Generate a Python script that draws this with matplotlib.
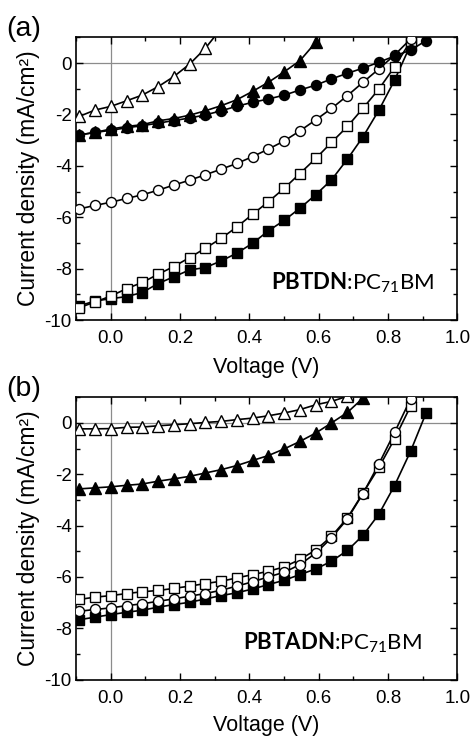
import matplotlib
matplotlib.use("Agg")
import matplotlib.pyplot as plt
from matplotlib.ticker import MultipleLocator

plt.rcParams['font.family'] = ['Liberation Sans', 'DejaVu Sans']
plt.rcParams['mathtext.fontset'] = 'custom'
plt.rcParams['mathtext.rm'] = 'Lato'
plt.rcParams['mathtext.bf'] = 'Lato:bold'

# Voltage grid of the measurements (V)
voltage = [-0.091, -0.045, 0.000, 0.046, 0.091, 0.137, 0.182, 0.228, 0.273,
           0.319, 0.364, 0.410, 0.455, 0.501, 0.546, 0.592, 0.637, 0.683,
           0.728, 0.774, 0.819, 0.865, 0.910]

# Panel (a): PBTDN:PC71BM
a_filled_square = [-9.45, -9.26, -9.17, -9.09, -8.93, -8.58, -8.32, -8.05, -7.96, -7.70,
                   -7.40, -7.01, -6.53, -6.12, -5.65, -5.12, -4.55, -3.74, -2.87, -1.83,
                   -0.67, 0.70]
a_open_square = [-9.52, -9.30, -9.07, -8.78, -8.54, -8.22, -7.92, -7.57, -7.21, -6.82,
                 -6.38, -5.88, -5.40, -4.87, -4.30, -3.71, -3.09, -2.47, -1.76, -1.01,
                 -0.15, 0.85]
a_open_circle = [-5.68, -5.54, -5.42, -5.27, -5.13, -4.95, -4.75, -4.56, -4.35, -4.13,
                 -3.91, -3.64, -3.35, -3.03, -2.64, -2.21, -1.77, -1.27, -0.75, -0.23,
                 0.31, 0.93]
a_filled_circle = [-2.80, -2.70, -2.62, -2.52, -2.44, -2.34, -2.24, -2.14, -2.02, -1.86,
                   -1.68, -1.53, -1.40, -1.25, -1.05, -0.86, -0.62, -0.40, -0.20, 0.03,
                   0.27, 0.50, 0.87]
a_filled_triangle = [-2.80, -2.70, -2.57, -2.47, -2.40, -2.25, -2.16, -2.03, -1.86, -1.66,
                     -1.43, -1.10, -0.75, -0.34, 0.09, 0.81]
a_open_triangle = [-2.08, -1.83, -1.69, -1.47, -1.25, -0.92, -0.53, -0.04, 0.57, 1.35]

# Panel (b): PBTADN:PC71BM
b_filled_square = [-7.67, -7.57, -7.47, -7.38, -7.30, -7.18, -7.08, -6.99, -6.86, -6.73,
                   -6.62, -6.47, -6.30, -6.13, -5.91, -5.69, -5.39, -4.97, -4.38, -3.55,
                   -2.44, -1.11, 0.39]
b_open_square = [-6.88, -6.79, -6.73, -6.65, -6.58, -6.53, -6.45, -6.36, -6.26, -6.17,
                 -6.04, -5.91, -5.78, -5.61, -5.32, -4.95, -4.42, -3.70, -2.73, -1.73,
                 -0.62, 0.65]
b_open_circle = [-7.34, -7.27, -7.21, -7.12, -7.05, -6.95, -6.86, -6.75, -6.65, -6.52,
                 -6.36, -6.19, -6.00, -5.82, -5.52, -5.07, -4.48, -3.74, -2.75, -1.59,
                 -0.37, 0.93]
b_filled_triangle = [-2.57, -2.53, -2.49, -2.43, -2.38, -2.27, -2.18, -2.08, -1.95, -1.82,
                     -1.66, -1.46, -1.27, -1.01, -0.72, -0.39, 0.00, 0.41, 0.97]
b_open_triangle = [-0.23, -0.23, -0.22, -0.17, -0.16, -0.11, -0.07, -0.03, 0.02, 0.06,
                   0.13, 0.19, 0.28, 0.39, 0.52, 0.71, 0.84, 1.04]

x_ticks = [0.0, 0.2, 0.4, 0.6, 0.8, 1.0]
y_ticks = [0, -2, -4, -6, -8, -10]

W, H = 473, 737
fig = plt.figure(figsize=(W / 100, H / 100), dpi=100)
left, right = 76 / W, 457.3 / W
ax_a = fig.add_axes([left, 1 - 320 / H, right - left, (320 - 37.3) / H])
ax_b = fig.add_axes([left, 1 - 679.5 / H, right - left, (679.5 - 397.3) / H])

styles_a = [('s', 'black'), ('s', 'white'), ('o', 'white'),
            ('o', 'black'), ('^', 'black'), ('^', 'white')]
styles_b = [('s', 'black'), ('s', 'white'), ('o', 'white'),
            ('^', 'black'), ('^', 'white')]

panels = [
    (ax_a, [a_filled_square, a_open_square, a_open_circle, a_filled_circle,
            a_filled_triangle, a_open_triangle], styles_a,
     r'$\mathbf{PBTDN}\text{:PC}_{71}\text{BM}$', 0.9415, 7),
    (ax_b, [b_filled_square, b_open_square, b_open_circle, b_filled_triangle,
            b_open_triangle], styles_b,
     r'$\mathbf{PBTADN}\text{:PC}_{71}\text{BM}$', 0.9066, 5.5),
]

for ax, series, sty, label, lx, lp in panels:
    ax.axhline(0, color='#8c8c8c', lw=0.9, zorder=1)
    ax.axvline(0, color='#8c8c8c', lw=0.9, zorder=1)
    for ys, (m, fc) in zip(series, sty):
        xs = voltage[:len(ys)]
        ax.plot(xs, ys, color='black', lw=1.2, zorder=2)
        ax.plot(xs, ys, ls='none', marker=m, ms=7.2 if m != '^' else 8,
                mfc=fc, mec='black', mew=1.0, zorder=3)
    ax.set_xlim(-0.1, 1.0)
    ax.set_ylim(-10, 1)
    ax.set_xticks(x_ticks)
    ax.set_xticklabels([f'{t:.1f}' for t in x_ticks])
    ax.set_yticks(y_ticks)
    ax.set_yticklabels([f'{t:d}' for t in y_ticks])
    ax.xaxis.set_minor_locator(MultipleLocator(0.1))
    ax.yaxis.set_minor_locator(MultipleLocator(1))
    ax.tick_params(which='both', direction='in', top=True, right=True,
                   labelsize=13.5, width=1.0)
    ax.tick_params(which='major', length=5)
    ax.tick_params(which='minor', length=3)
    ax.tick_params(axis='x', which='major', pad=7.5)
    ax.tick_params(axis='y', which='major', pad=3)
    for sp in ax.spines.values():
        sp.set_linewidth(1.2)
    ax.set_xlabel('Voltage (V)', fontsize=15.5, labelpad=lp)
    ax.set_ylabel('Current density (mA/cm²)', fontsize=16.5, labelpad=3)
    ax.text(lx, 0.131, label, transform=ax.transAxes, ha='right', va='center',
            fontsize=16)

fig.text(0.013, 1 - 29 / H, '(a)', fontsize=20.5, ha='left', va='center')
fig.text(0.013, 1 - 389 / H, '(b)', fontsize=20.5, ha='left', va='center')

fig.savefig('out.png', dpi=100)
